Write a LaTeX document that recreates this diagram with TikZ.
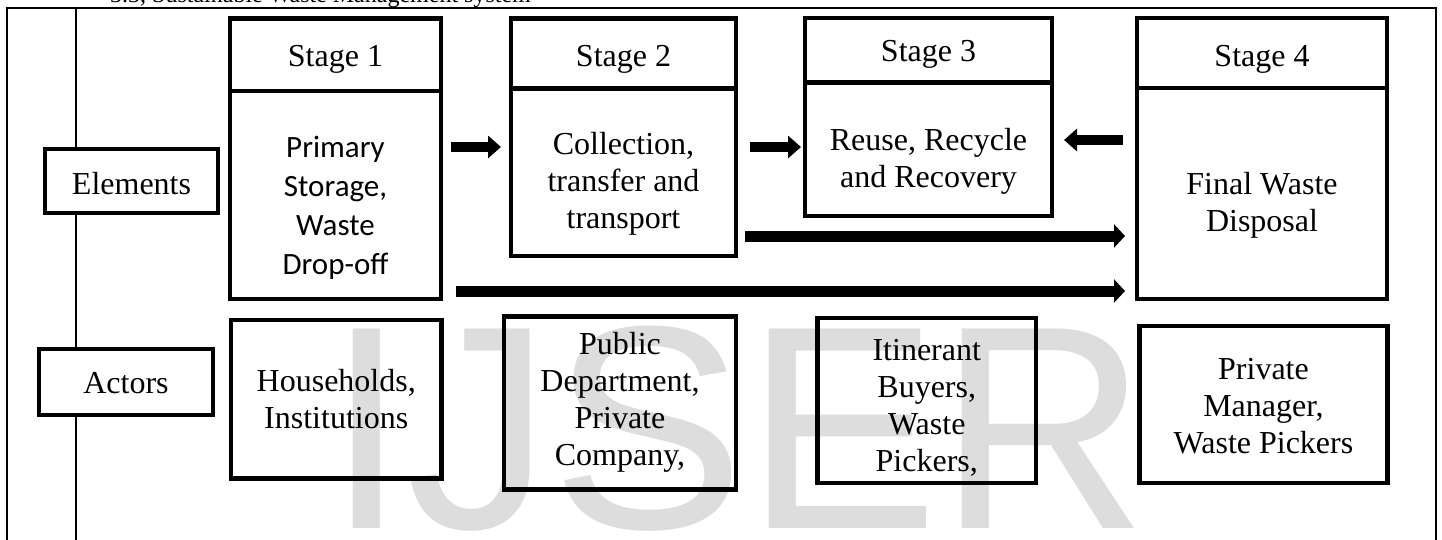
\documentclass[tikz,border=0pt]{standalone}
\usepackage{fontspec}
\setmainfont{Liberation Serif}
\newfontfamily\calibfont{Carlito}
\newfontfamily\wmfont{Liberation Sans}
\usetikzlibrary{arrows.meta}
\definecolor{wmgray}{RGB}{221,221,221}
\begin{document}
\begin{tikzpicture}[x=1pt,y=-1pt,
  box/.style={draw=black,line width=4.5pt,inner sep=0pt,outer sep=0pt},
  fbox/.style={box,fill=white},
  frameline/.style={draw=black,line width=2.4pt},
  txt/.style={font=\fontsize{32}{37}\selectfont,align=center,inner sep=0pt},
  ctxt/.style={font=\calibfont\fontsize{31}{39}\selectfont,align=center,inner sep=0pt},
  smallarrow/.style={line width=10pt,-{Triangle[length=13pt,width=22pt]}},
  longarrow/.style={line width=11pt,-{Triangle[length=11pt,width=23pt]}}
]
\useasboundingbox (0,0) rectangle (1442,540);
\clip (0,0) rectangle (1442,540);
\fill[white] (0,0) rectangle (1442,540);

% watermark
\node[anchor=base west,inner sep=0pt,text=wmgray,font=\wmfont\fontsize{290}{300}\selectfont] (wm) at (326,528) {IJSER};

% caption (cut by the page edge)
\node[anchor=base west,inner sep=0pt,font=\fontsize{24}{28}\selectfont] (cap) at (110,3) {3.3, Sustainable Waste Management system};

% outer frame and left column line
\draw[frameline] (7,8) rectangle (1436,600);
\coordinate (ltop) at (76,8);
\coordinate (lbot) at (76,600);

% row labels
\node[fbox,minimum width=173pt,minimum height=64pt] (el) at (131.5,181) {};
\node[fbox,minimum width=174pt,minimum height=66pt] (ac) at (126,382) {};
\draw[frameline] (ltop) -- (ltop |- el.north);
\draw[frameline] (ltop |- el.south) -- (ltop |- ac.north);
\draw[frameline] (ltop |- ac.south) -- (lbot);
\node[txt,anchor=base] (elt) at (131.5,195) {Elements};
\node[txt,anchor=base] (act) at (126,393) {Actors};

% Stage 1
\node[box,minimum width=211pt,minimum height=72.5pt] (s1h) at (335.5,54.75) {};
\node[box,minimum width=211pt,minimum height=208pt] (s1b) at (335.5,195) {};
\node[txt,anchor=base] (s1ht) at (335.5,67) {Stage 1};
\node[ctxt] (s1bt) at (335.5,208) {Primary\\Storage,\\Waste\\Drop-off};

% Stage 2
\node[box,minimum width=225pt,minimum height=70pt] (s2h) at (623.5,53.5) {};
\node[box,minimum width=225pt,minimum height=167.5pt] (s2b) at (623.5,172.25) {};
\node[txt,anchor=base] (s2ht) at (623.5,67) {Stage 2};
\node[txt] (s2bt) at (623.5,184) {Collection,\\transfer and\\transport};

% Stage 3
\node[box,minimum width=247pt,minimum height=64.5pt] (s3h) at (928.5,50.25) {};
\node[box,minimum width=247pt,minimum height=133.5pt] (s3b) at (928.5,149.25) {};
\node[txt,anchor=base] (s3ht) at (928.5,62) {Stage 3};
\node[txt] (s3bt) at (928.5,161) {Reuse, Recycle\\and Recovery};

% Stage 4
\node[box,minimum width=250pt,minimum height=70pt] (s4h) at (1262,53) {};
\node[box,minimum width=250pt,minimum height=211pt] (s4b) at (1262,193.5) {};
\node[txt,anchor=base] (s4ht) at (1262,67) {Stage 4};
\node[txt] (s4bt) at (1262,205) {Final Waste\\Disposal};

% Actors boxes
\node[box,minimum width=210.5pt,minimum height=158.5pt] (a1) at (336.25,399.25) {};
\node[txt] (a1t) at (336.25,399.5) {Households,\\Institutions};
\node[box,minimum width=232pt,minimum height=173pt] (a2) at (620,403) {};
\node[txt] (a2t) at (620,402) {Public\\Department,\\Private\\Company,};
\node[box,minimum width=218.5pt,minimum height=165pt] (a3) at (926.75,400.5) {};
\node[txt] (a3t) at (926.75,408) {Itinerant\\Buyers,\\Waste\\Pickers,};
\node[box,minimum width=248pt,minimum height=157pt] (a4) at (1263.5,404.5) {};
\node[txt] (a4t) at (1263.5,406) {Private\\Manager,\\Waste Pickers};

% arrows
\coordinate (p12s) at (451,147);
\coordinate (p12e) at (501,147);
\coordinate (p23s) at (750,147);
\coordinate (p23e) at (801,147);
\coordinate (p43s) at (1123,140);
\coordinate (p43e) at (1064,140);
\coordinate (pus) at (745,236);
\coordinate (pue) at (1125,236);
\coordinate (pls) at (456,291);
\coordinate (ple) at (1125,291);
\draw[smallarrow] (p12s) -- (p12e);
\draw[smallarrow] (p23s) -- (p23e);
\draw[smallarrow] (p43s) -- (p43e);
\draw[longarrow] (pus) -- (pue);
\draw[longarrow] (pls) -- (ple);
\end{tikzpicture}
\end{document}
